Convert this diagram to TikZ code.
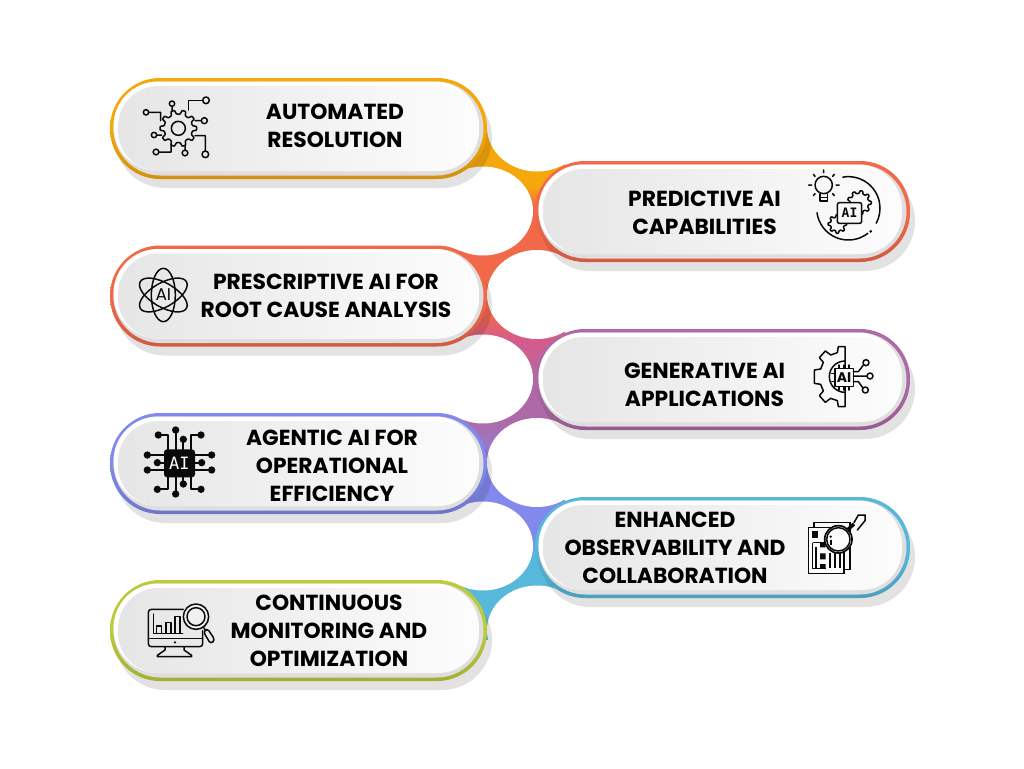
\documentclass[tikz,border=0pt]{standalone}
\usepackage{fontspec}
\setmainfont{Poppins}
\newfontfamily\monoai{DejaVu Sans Mono}
\definecolor{amberc}{HTML}{F5A80C}
\definecolor{orangec}{HTML}{F2694A}
\definecolor{pinkc}{HTML}{D65B8B}
\definecolor{purplec}{HTML}{AE6AA8}
\definecolor{peric}{HTML}{8288EC}
\definecolor{bluec}{HTML}{58B8DB}
\definecolor{limec}{HTML}{BCCB3C}
\definecolor{inkc}{HTML}{0A0A0A}
\tikzset{
  notch/.style={fill=white,draw=none},
  lbl/.style={font=\fontsize{21.8}{28}\selectfont\bfseries,align=center,text=black,inner sep=0pt},
  ic/.style={draw=inkc,line width=1.5pt,line cap=round,line join=round},
  icdot/.style={fill=inkc,draw=none},
}
% x1 y1 width colour
\newcommand\pillbox[4]{%
  \fill[black,opacity=.115,rounded corners=50pt] (#1+5,#2+10) rectangle (#1+5+#3,#2+110);
  \shade[top color=#4,bottom color=#4!86!black,middle color=#4,rounded corners=50pt] (#1,#2) rectangle (#1+#3,#2+101);
  \fill[fill=white!87!black,rounded corners=47pt] (#1+3.5,#2+3.5) rectangle (#1+#3-3.5,#2+97.5);
  \fill[white,rounded corners=44.5pt] (#1+3.5,#2+3.5) rectangle (#1+#3-8,#2+93);
  \shade[left color=white!90!black,right color=white!99!black,rounded corners=40.5pt] (#1+8,#2+8) rectangle (#1+#3-8,#2+93);
}
\newcommand\gearicon[5]{% cx cy ro ri teeth
  \pgfmathsetmacro\st{360/#5}
  \draw[ic,shift={(#1,#2)},rounded corners=0.6pt]
    ({-0.3*\st}:#4) \foreach \k in {1,...,#5}{
      -- ({(\k-1)*\st-0.3*\st}:#4) -- ({(\k-1)*\st-0.16*\st}:#3) -- ({(\k-1)*\st+0.16*\st}:#3) -- ({(\k-1)*\st+0.3*\st}:#4)
    } -- cycle;
}
\begin{document}
\begin{tikzpicture}[x=1pt,y=-1pt]
\useasboundingbox (0,0) rectangle (1024,768);
\fill[white] (0,0) rectangle (1024,768);
% central ribbon
\fill[amberc] (460,125) rectangle (565,186);
\shade[top color=amberc,bottom color=orangec] (460,186) rectangle (565,206);
\fill[orangec] (460,206) rectangle (565,312);
\shade[top color=orangec,bottom color=pinkc] (460,312) rectangle (565,340);
\shade[top color=pinkc,bottom color=purplec] (460,340) rectangle (565,385);
\fill[purplec] (460,385) rectangle (565,422);
\shade[top color=purplec,bottom color=peric] (460,422) rectangle (565,470);
\fill[peric] (460,470) rectangle (565,534);
\shade[top color=peric,bottom color=bluec] (460,534) rectangle (565,556);
\fill[bluec] (460,556) rectangle (565,640);
% white notches
\fill[notch] (537,127) ellipse [x radius=50,y radius=44.5];
\fill[notch] (483,211) ellipse [x radius=50,y radius=44.5];
\fill[notch] (537,294.5) ellipse [x radius=50,y radius=44.5];
\fill[notch] (483,379) ellipse [x radius=50,y radius=44.5];
\fill[notch] (537,462.5) ellipse [x radius=50,y radius=44.5];
\fill[notch] (483,546) ellipse [x radius=50,y radius=44.5];
\fill[notch] (537,630) ellipse [x radius=50,y radius=44.5];
% pills
\pillbox{110}{78}{377}{amberc}
\pillbox{535}{161}{375}{orangec}
\pillbox{110}{245.5}{377}{orangec}
\pillbox{535}{329}{375}{purplec}
\pillbox{110}{413}{377}{peric}
\pillbox{535}{497}{375}{bluec}
\pillbox{110}{580}{377}{limec}
% labels
\node[lbl] (t1) at (335,125.5) {AUTOMATED\\RESOLUTION};
\node[lbl] (t2) at (704.5,212.5) {PREDICTIVE AI\\CAPABILITIES};
\node[lbl] (t3) at (326,295.5) {PRESCRIPTIVE AI FOR\\ROOT CAUSE ANALYSIS};
\node[lbl] (t4) at (704.5,384.5) {GENERATIVE AI\\APPLICATIONS};
\node[lbl] (t5) at (332,465.5) {AGENTIC AI FOR\\OPERATIONAL\\EFFICIENCY};
\node[lbl] (t6) at (675,547.5) {ENHANCED\\OBSERVABILITY AND\\COLLABORATION};
\node[lbl] (t7) at (329,630.5) {CONTINUOUS\\MONITORING AND\\OPTIMIZATION};
% icon 1: gear and circuit
\begin{scope}[shift={(100,70)},scale=1/3]
\gearicon{235}{175}{55}{43}{10}
\draw[ic] (235,175) circle[radius=21];
\draw[ic] (265,120) -- (265,92) -- (307,92);
\draw[ic] (318,91) circle[radius=10];
\draw[ic] (216,101) circle[radius=8] (216,109) -- (216,125);
\draw[ic] (138,127) circle[radius=8] (146,127) -- (182,127) -- (182,152);
\draw[ic] (313,152) circle[radius=9] (304,152) -- (285,152);
\draw[ic] (162,195) circle[radius=8] (170,195) -- (185,195);
\draw[ic] (168,246) circle[radius=8.5] (176,246) -- (213,246) -- (213,222);
\draw[ic] (255,249) circle[radius=8.5] (255,240) -- (255,228);
\draw[ic] (316,253) circle[radius=10] (316,243) -- (316,197) -- (285,197);
\end{scope}
% icon 2: bulb and AI
\begin{scope}[shift={(780,150)},scale=1/3]
\draw[ic] (205,175) ++(-100:95) arc[start angle=-100,end angle=28,radius=95];
\fill[icdot] (272,244) circle[radius=4.5];
\draw[ic] (205,175) ++(52:95) arc[start angle=52,end angle=172,radius=95];
\gearicon{238}{158}{36}{28}{9}
\gearicon{172}{222}{28}{21}{8}
\draw[ic,fill=white!97!black,rounded corners=2pt] (172,158) rectangle (245,220);
\node[inner sep=0pt,font=\fontsize{13}{13}\selectfont\monoai\bfseries,text=inkc] (ai2) at (208.5,189) {AI};
\draw[ic,fill=white!97!black] (131,105) circle[radius=26];
\draw[ic] (120,132) -- (120,153) -- (142,153) -- (142,132);
\draw[ic] (120,143) -- (142,143);
\draw[ic] (131,60) -- (131,68) (100,73) -- (105,79) (163,73) -- (158,79) (86,105) -- (95,105) (177,105) -- (168,105) (100,137) -- (105,131) (163,137) -- (158,131);
\end{scope}
% icon 3: atom AI
\begin{scope}[shift={(120,250)},scale=1/3]
\foreach \r in {90,30,150}{
  \draw[ic,rotate around={\r:(130,135)}] (130,135) ellipse[x radius=80,y radius=36];
}
\fill[white!92!black] (130,135) circle[radius=33];
\node[inner sep=0pt,font=\fontsize{17}{17}\selectfont,text=inkc] (ai3) at (130,135) {AI};
\end{scope}
% icon 4: half gear chip
\begin{scope}[shift={(790,330)},scale=1/3]
\draw[ic] (165,50) -- (165,230) -- (145,230) -- (142,212) -- (122,205) -- (106,217) -- (88,197) -- (100,183) -- (92,163) -- (73,160) -- (73,120) -- (92,117) -- (100,97) -- (88,83) -- (106,63) -- (122,75) -- (142,68) -- (145,50) -- cycle;
\draw[ic] (165,93) arc[start angle=-90,end angle=-270,radius=47];
\draw[ic,fill=white!98!black] (135,115) rectangle (190,170);
\draw[ic] (147,115) -- (147,105) (162,115) -- (162,105) (177,115) -- (177,105) (147,170) -- (147,180) (162,170) -- (162,180) (177,170) -- (177,180) (135,130) -- (125,130) (135,155) -- (125,155);
\node[inner sep=0pt,font=\fontsize{14}{14}\selectfont\bfseries,text=inkc] (ai4) at (162,142) {AI};
\draw[ic] (228,98) circle[radius=9] (221,104) -- (205,125) -- (190,125);
\draw[ic] (240,138) circle[radius=9] (231,138) -- (190,138);
\draw[ic] (226,180) circle[radius=9] (219,174) -- (205,155) -- (190,155);
\end{scope}
% icon 5: black chip
\begin{scope}[shift={(120,420)},scale=1/3]
\draw[ic,line width=1.7pt] (115,45) -- (145,45) -- (145,88) (243,45) -- (213,45) -- (213,88) (167,30) -- (167,88) (190,58) -- (190,88)
  (82,105) -- (132,105) (82,150) -- (132,150) (112,128) -- (132,128)
  (275,105) -- (225,105) (275,150) -- (225,150) (245,128) -- (225,128)
  (112,208) -- (145,208) -- (145,172) (243,208) -- (213,208) -- (213,172) (167,222) -- (167,172) (190,192) -- (190,172);
\foreach \p in {(167,30),(115,45),(243,45),(190,58),(82,105),(82,150),(112,128),(275,105),(275,150),(245,128),(112,208),(167,222),(243,208),(190,192)}
  \fill[icdot] \p circle[radius=11];
\fill[inkc,rounded corners=3pt] (132,88) rectangle (225,172);
\node[inner sep=0pt,font=\fontsize{17}{17}\selectfont\monoai,text=white] (ai5) at (178,130) {AI};
\end{scope}
% icon 6: report and magnifier
\begin{scope}[shift={(790,500)},scale=1/3]
\draw[ic,line cap=butt,line join=miter] (72,83) -- (72,68) -- (180,68) -- (180,208) -- (162,208);
\draw[ic,fill=white!99!black,line cap=butt,line join=miter] (55,83) rectangle (162,220);
\fill[inkc] (66,92) rectangle (84,115);
\draw[ic,line cap=butt] (68,128) -- (108,128) (68,128) -- (68,205) -- (108,205);
\draw[ic,line cap=butt] (78,140) -- (78,205);
\fill[inkc] (90,128) rectangle (107,142) (90,160) rectangle (107,178) (90,192) rectangle (107,205);
\draw[ic,line cap=butt] (120,160) -- (120,205) (135,160) -- (135,205) (150,160) -- (150,205);
\draw[ic,fill=white!99!black,line width=1.7pt] (145,118) circle[radius=41];
\draw[ic] (145,118) circle[radius=35];
\fill[icdot] (122,110) circle[radius=4];
\draw[inkc,line width=2pt,line cap=butt] (122,119) -- (122,135);
\draw[inkc,line width=3.5pt,line cap=butt] (172,90) -- (192,72);
\draw[ic,line join=miter] (192,68) -- (205,45) -- (225,45) -- (225,62) -- (202,90);
\end{scope}
% icon 7: monitor and magnifier
\begin{scope}[shift={(120,590)},scale=1/3]
\draw[ic,rounded corners=3pt] (190,58) -- (85,58) -- (85,170) -- (248,170) -- (248,122);
\draw[ic] (85,145) -- (248,145);
\fill[icdot] (165,157) circle[radius=3.5];
\draw[ic] (135,170) -- (135,180) -- (112,196) -- (112,200) -- (215,200) -- (215,196) -- (192,180) -- (192,170);
\draw[ic] (100,72) -- (100,130) -- (188,130);
\draw[ic] (110,130) -- (110,108) -- (125,108) -- (125,130) (138,130) -- (138,98) -- (153,98) -- (153,130) (165,130) -- (165,80) -- (180,80) -- (180,130);
\draw[ic,fill=white!94!black] (228,80) circle[radius=38];
\draw[ic] (228,80) circle[radius=27];
\draw[ic] (250,112) -- (258,122);
\draw[ic,rounded corners=3pt] (250,125) -- (262,115) -- (285,150) -- (272,162) -- cycle;
\end{scope}
\end{tikzpicture}
\end{document}
